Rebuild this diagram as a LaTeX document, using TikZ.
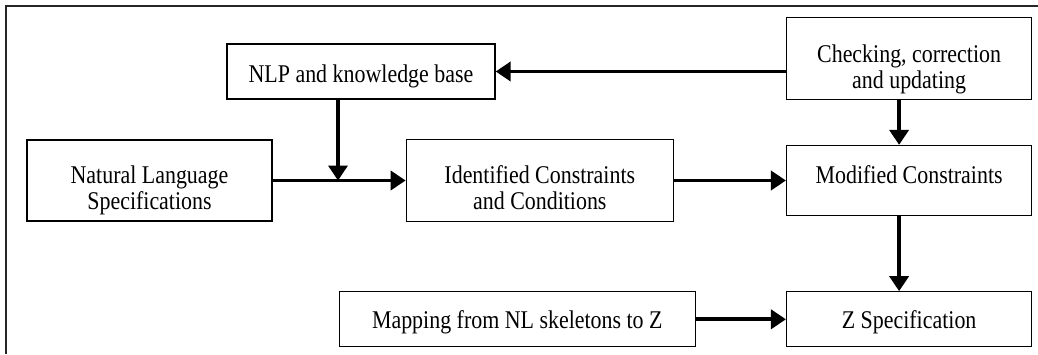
\documentclass[tikz,border=0pt]{standalone}
\usepackage{fontspec}
\setmainfont{Liberation Serif}[FakeStretch=0.86]
\usepackage{tikz}
\usetikzlibrary{positioning,arrows.meta}

\begin{document}
\begin{tikzpicture}[x=1pt,y=1pt,font=\fontsize{25.5}{26}\selectfont,
  >={Triangle[length=15pt,width=19pt]},
  box/.style={draw,line width=1.3pt,inner sep=0pt,align=center,text depth=0pt,text height=#1},
  box/.default=6pt,
  arr/.style={->,line width=3.7pt},
  frame/.style={line width=1.6pt,draw=black!85}]
  \useasboundingbox (0,0) rectangle (1038,354);
  % outer frame (only top and left edge visible)
  \coordinate (frtr) at (1038,348);
  \coordinate (frtl) at (6,348);
  \coordinate (frbl) at (6,0);
  \draw[frame] (frtr) -- (frtl) -- (frbl);
  % boxes
  \node[box=57pt,minimum width=245pt,minimum height=81pt] (nls) at (149.5,173.5) {Natural Language\\Specifications};
  \node[box=58pt,minimum width=267pt,minimum height=82pt,right=133pt of nls] (icc) {Identified Constraints\\and Conditions};
  \node[box=5.4pt,minimum width=245pt,minimum height=70pt,right=112pt of icc] (mod) {Modified Constraints};
  \node[box=60pt,minimum width=245pt,minimum height=82pt,above=45pt of mod] (chk) {Checking, correction\\and updating};
  \node[box=21.6pt,minimum width=268pt,minimum height=55pt] (nlp) at (361,282.5) {NLP and knowledge base};
  \node[box=19pt,minimum width=245pt,minimum height=55pt,below=75pt of mod] (zsp) {Z Specification};
  \node[box=19pt,minimum width=356pt,minimum height=55pt,left=90pt of zsp] (map) {Mapping from NL skeletons to Z};
  \coordinate (join) at (338,173.5);
  % connectors
  \draw[arr] (nls.east) -- (nls.east -| icc.west);
  \draw[arr] (nlp.south -| join) -- (join);
  \draw[arr] (nlp.east -| chk.west) -- (nlp.east);
  \draw[arr] (icc.east) -- (icc.east -| mod.west);
  \draw[arr] ([xshift=-10pt]chk.south) -- ([xshift=-10pt]mod.north);
  \draw[arr] ([xshift=-10pt]mod.south) -- ([xshift=-10pt]zsp.north);
  \draw[arr] (map) -- (zsp);
\end{tikzpicture}
\end{document}
